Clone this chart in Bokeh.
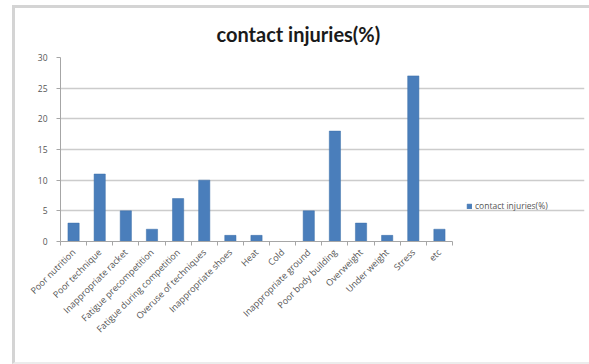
import math
from bokeh.plotting import figure
from bokeh.layouts import column
from bokeh.models import ColumnDataSource, Range1d, FixedTicker, Legend, LegendItem
from bokeh.embed import file_html
from bokeh.resources import INLINE

categories = ["Poor nutrition", "Poor technique", "Inappropriate racket",
              "Fatigue precompetition", "Fatigue during competition",
              "Overuse of techniques", "Inappropriate shoes", "Heat", "Cold",
              "Inappropriate ground", "Poor body building", "Overweight",
              "Under weight", "Stress", "etc"]
values = [3, 11, 5, 2, 7, 10, 1, 1, 0, 5, 18, 3, 1, 27, 2]
y_ticks = [0, 5, 10, 15, 20, 25, 30]
series_name = "contact injuries(%)"

n = len(categories)
xs = [i + 0.5 for i in range(n)]
src = ColumnDataSource(dict(x=xs, top=values, name=categories))

W, H = 574, 354
BL, BR, BT, BB = 45, 5, 49, 121
frame_w = W - BL - BR
axis_px = 392  # pixel length of category axis
x_end = n * frame_w / axis_px

p = figure(width=W, height=H, output_backend="svg", toolbar_location=None,
           x_range=Range1d(0, x_end), y_range=Range1d(0, 30),
           min_border_left=BL, min_border_right=BR, min_border_top=BT,
           min_border_bottom=BB)
p.outline_line_color = None
p.background_fill_color = "white"
p.border_fill_color = "white"

r = p.vbar(x="x", top="top", width=0.43, source=src, fill_color="#4a7ebb",
           line_color="#3b6ea8", line_width=0.5)

p.title.text = series_name
p.title.text_font = "Lato"
p.title.text_font_size = "20px"
p.title.text_font_style = "bold"
p.title.text_color = "#1a1a1a"
p.title.align = "left"
p.title.offset = 156
p.title.standoff = 23

# x axis
xa = p.xaxis[0]
xa.bounds = (0, n)
xa.ticker = FixedTicker(ticks=xs, minor_ticks=list(range(n + 1)))
xa.major_label_overrides = {x: c for x, c in zip(xs, categories)}
xa.major_label_orientation = math.pi / 4
xa.major_tick_out = 0
xa.major_tick_in = 0
xa.minor_tick_out = 4
xa.minor_tick_in = 0
xa.minor_tick_line_color = "#a6a6a6"
xa.axis_line_color = "#a6a6a6"
xa.major_label_text_font = "Open Sans"
xa.major_label_text_font_size = "9px"
xa.major_label_text_color = "#555555"
xa.major_label_standoff = 5

ya = p.yaxis[0]
ya.ticker = FixedTicker(ticks=y_ticks)
ya.axis_line_color = "#a6a6a6"
ya.major_tick_line_color = "#a6a6a6"
ya.major_tick_out = 4
ya.major_tick_in = 0
ya.minor_tick_line_color = None
ya.major_label_text_font = "Open Sans"
ya.major_label_text_font_size = "8.5px"
ya.major_label_text_color = "#555555"
ya.major_label_standoff = 9

p.xgrid.grid_line_color = None
p.ygrid.grid_line_color = "#cccccc"
p.ygrid.grid_line_width = 1.5
p.ygrid.bounds = (0, n)

legend = Legend(items=[LegendItem(label=series_name, renderers=[r])],
                location=(406, 30), border_line_color=None,
                background_fill_alpha=0, label_text_font="Open Sans",
                label_text_font_size="8.5px", label_text_color="#555555",
                glyph_width=6, glyph_height=6, label_standoff=3, padding=2,
                margin=0)
p.add_layout(legend)

layout = column(p, margin=(5, 0, 0, 12))
layout.styles = {"border-top": "3px solid #d4d4d4", "border-left": "3px solid #d4d4d4",
                 "border-bottom": "2px solid #ececec"}

open("out.html", "w").write(file_html(layout, INLINE))
